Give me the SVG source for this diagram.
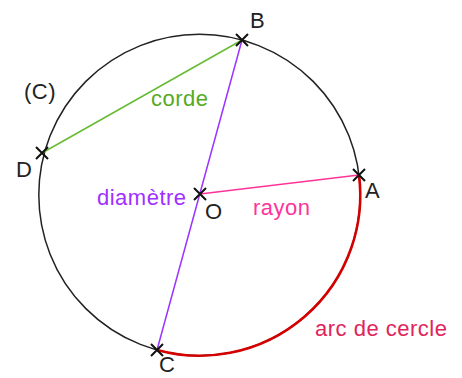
<svg xmlns="http://www.w3.org/2000/svg" width="462" height="378" viewBox="0 0 462 378">
<style>
text{font-family:"Liberation Sans",Arial,sans-serif;font-size:22px;letter-spacing:0.5px}
.k{fill:#222}
.x{stroke:#111;stroke-width:2;fill:none}
</style>
<defs>
<path id="cross" class="x" d="M-6,-6L6,6M-6,6L6,-6"/>
</defs>
<g id="circle"><circle cx="199.5" cy="195" r="160.7" fill="none" stroke="#222" stroke-width="1.5"/>
<text class="k" x="24" y="99">(C)</text></g>
<g id="connectors">
<path id="arc" d="M359,175 A160.7,160.7 0 0 1 157,350" fill="none" stroke="#d40000" stroke-width="2.6"/>
<line id="corde" x1="42" y1="153" x2="242" y2="40" stroke="#66bb33" stroke-width="1.5"/>
<line id="diametre" x1="242" y1="40" x2="157" y2="350" stroke="#9933ff" stroke-width="1.5"/>
<line id="rayon" x1="200" y1="194" x2="359" y2="175" stroke="#ff3399" stroke-width="1.5"/>
</g>
<g id="labels">
<text x="151" y="106" fill="#55aa22">corde</text>
<text x="97" y="205" fill="#a030ff">diamètre</text>
<text x="253" y="215" fill="#ff3399">rayon</text>
<text x="315" y="336" fill="#e0245a">arc de cercle</text>
</g>
<g id="B"><use href="#cross" x="242" y="40"/><text class="k" x="250" y="28">B</text></g>
<g id="A"><use href="#cross" x="359" y="175"/><text class="k" x="365" y="198">A</text></g>
<g id="D"><use href="#cross" x="42" y="153"/><text class="k" x="16" y="177">D</text></g>
<g id="C"><use href="#cross" x="157" y="350"/><text class="k" x="159" y="372">C</text></g>
<g id="O"><use href="#cross" x="200" y="194"/><text class="k" x="205" y="219">O</text></g>
</svg>
